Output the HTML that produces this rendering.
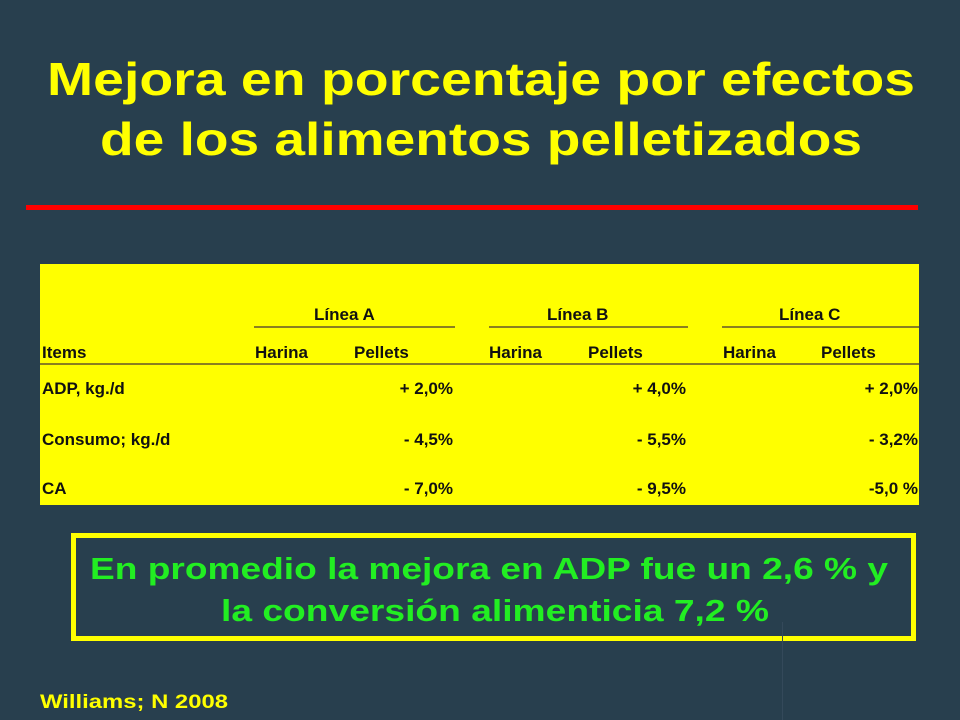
<!DOCTYPE html>
<html><head><meta charset="utf-8">
<style>
html,body{margin:0;padding:0}
body{width:960px;height:720px;background:#283f4e;position:relative;overflow:hidden;font-family:"Liberation Sans",Arial,sans-serif}
.abs{position:absolute}
#tbl{left:40px;top:264px;width:879px;height:241px;background:#ffff00}
.t{position:absolute;font-weight:bold;font-size:17px;color:#111;line-height:20px;white-space:nowrap}
.r{text-align:right}
.ul{position:absolute;height:2px;background:#8a7f20}
</style></head>
<body>
<svg class="abs" style="left:0;top:0" width="960" height="720">
  <text x="481" y="95" text-anchor="middle" font-family="Liberation Sans, Arial, sans-serif" font-weight="bold" font-size="46" fill="#ffff00" textLength="868" lengthAdjust="spacingAndGlyphs">Mejora en porcentaje por efectos</text>
  <text x="481" y="155" text-anchor="middle" font-family="Liberation Sans, Arial, sans-serif" font-weight="bold" font-size="46" fill="#ffff00" textLength="762" lengthAdjust="spacingAndGlyphs">de los alimentos pelletizados</text>
  <rect x="26" y="205" width="892" height="5" fill="#ff0000"/>
  <rect x="73.5" y="535.5" width="840" height="103" fill="none" stroke="#ffff00" stroke-width="5"/>
  <text x="489" y="579" text-anchor="middle" font-family="Liberation Sans, Arial, sans-serif" font-weight="bold" font-size="31" fill="#22ee22" textLength="798" lengthAdjust="spacingAndGlyphs">En promedio la mejora en ADP fue un 2,6 % y</text>
  <text x="495" y="621" text-anchor="middle" font-family="Liberation Sans, Arial, sans-serif" font-weight="bold" font-size="31" fill="#22ee22" textLength="548" lengthAdjust="spacingAndGlyphs">la conversión alimenticia 7,2 %</text>
  <text x="40" y="708" font-family="Liberation Sans, Arial, sans-serif" font-weight="bold" font-size="19" fill="#ffff00" textLength="188" lengthAdjust="spacingAndGlyphs">Williams; N 2008</text>
  <rect x="782" y="622" width="1" height="98" fill="#34495a"/>
</svg>

<div id="tbl" class="abs">
  <div class="t" style="left:274px;top:41px">Línea A</div>
  <div class="t" style="left:507px;top:41px">Línea B</div>
  <div class="t" style="left:739px;top:41px">Línea C</div>
  <div class="ul" style="left:214px;top:62px;width:201px"></div>
  <div class="ul" style="left:449px;top:62px;width:199px"></div>
  <div class="ul" style="left:682px;top:62px;width:197px"></div>

  <div class="t" style="left:2px;top:79px">Items</div>
  <div class="t" style="left:215px;top:79px">Harina</div>
  <div class="t" style="left:314px;top:79px">Pellets</div>
  <div class="t" style="left:449px;top:79px">Harina</div>
  <div class="t" style="left:548px;top:79px">Pellets</div>
  <div class="t" style="left:683px;top:79px">Harina</div>
  <div class="t" style="left:781px;top:79px">Pellets</div>
  <div class="ul" style="left:0;top:99px;width:879px"></div>

  <div class="t" style="left:2px;top:115px">ADP, kg./d</div>
  <div class="t r" style="right:466px;top:115px">+ 2,0%</div>
  <div class="t r" style="right:233px;top:115px">+ 4,0%</div>
  <div class="t r" style="right:1px;top:115px">+ 2,0%</div>

  <div class="t" style="left:2px;top:166px">Consumo; kg./d</div>
  <div class="t r" style="right:466px;top:166px">- 4,5%</div>
  <div class="t r" style="right:233px;top:166px">- 5,5%</div>
  <div class="t r" style="right:1px;top:166px">- 3,2%</div>

  <div class="t" style="left:2px;top:215px">CA</div>
  <div class="t r" style="right:466px;top:215px">- 7,0%</div>
  <div class="t r" style="right:233px;top:215px">- 9,5%</div>
  <div class="t r" style="right:1px;top:215px">-5,0 %</div>
</div>
</body></html>
